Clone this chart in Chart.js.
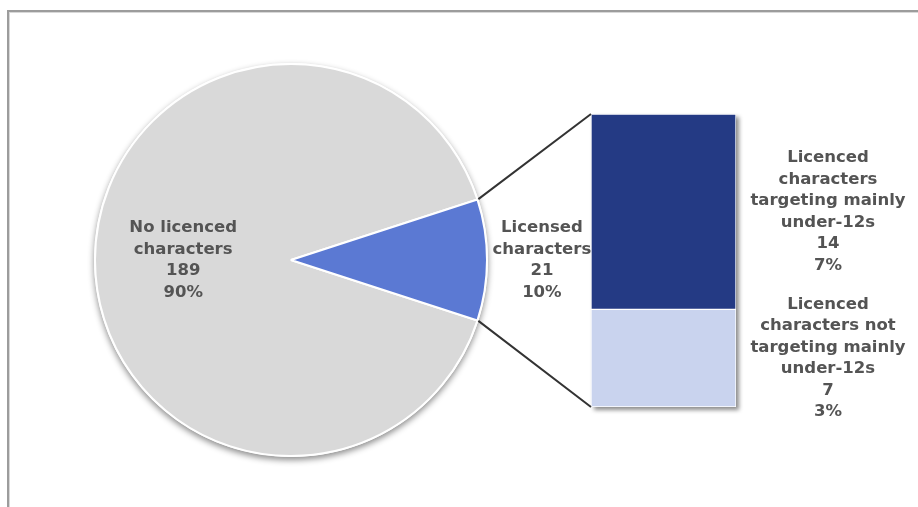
<!DOCTYPE html>
<html>
<head>
<meta charset="utf-8">
<script src="https://cdn.jsdelivr.net/npm/chart.js@4.4.0/dist/chart.umd.min.js"></script>
<style>
  html, body { margin: 0; padding: 0; background: #fff; overflow: hidden; }
  #wrap { position: relative; width: 918px; height: 507px; }
  #frame {
    position: absolute; left: 7px; top: 10px; width: 1000px; height: 600px;
    border-top: 2px solid #9c9c9c; border-left: 2px solid #9c9c9c;
    box-shadow: inset 1px 1px 0 #d8d8d8;
  }
  canvas { position: absolute; left: 0; top: 0; }
</style>
</head>
<body>
<div id="wrap">
  <div id="frame"></div>
  <canvas id="pie" width="918" height="507"></canvas>
  <canvas id="bar" width="918" height="507"></canvas>
</div>
<script>
// main split
const pieLabels = [['No licenced', 'characters'], ['Licensed', 'characters']];
const pieValues = [189, 21];
const pieColors = ['#d9d9d9', '#5b79d3'];

// breakdown of the licensed slice (top segment first)
const splitLabels = [
  ['Licenced', 'characters', 'targeting mainly', 'under-12s'],
  ['Licenced', 'characters not', 'targeting mainly', 'under-12s']
];
const splitValues = [14, 7];
const splitColors = ['#243a84', '#c9d3ee'];

const total = pieValues.reduce((a, b) => a + b, 0);
const pct = v => Math.round(v / total * 100) + '%';

const FONT = 'bold 16.5px "DejaVu Sans", sans-serif';
const TEXT = '#545454';
const LINE_H = 21.5;

function drawBlock(ctx, lines, x, yMid) {
  ctx.save();
  ctx.font = FONT;
  ctx.fillStyle = TEXT;
  ctx.textAlign = 'center';
  ctx.textBaseline = 'middle';
  const y0 = yMid - (lines.length - 1) * LINE_H / 2;
  lines.forEach((l, i) => ctx.fillText(l, x, y0 + i * LINE_H));
  ctx.restore();
}

const pieShadow = {
  id: 'pieShadow',
  beforeDatasetsDraw(chart) {
    const arc = chart.getDatasetMeta(0).data[0];
    const ctx = chart.ctx;
    ctx.save();
    ctx.shadowColor = 'rgba(0,0,0,0.45)';
    ctx.shadowBlur = 6;
    ctx.shadowOffsetY = 3;
    ctx.beginPath();
    ctx.arc(arc.x, arc.y, arc.outerRadius + 1, 0, Math.PI * 2);
    ctx.fillStyle = '#fff';
    ctx.fill();
    ctx.restore();
  }
};

const pieText = {
  id: 'pieText',
  afterDatasetsDraw(chart) {
    const arcs = chart.getDatasetMeta(0).data;
    const ctx = chart.ctx;
    // big slice labelled inside, small slice just outside its edge
    const dist = [0.55, 1.28];
    arcs.forEach((a, i) => {
      const mid = (a.startAngle + a.endAngle) / 2;
      const x = a.x + Math.cos(mid) * a.outerRadius * dist[i];
      const y = a.y + Math.sin(mid) * a.outerRadius * dist[i];
      drawBlock(ctx, [...pieLabels[i], String(pieValues[i]), pct(pieValues[i])], x, y);
    });
  }
};

const pieChart = new Chart(document.getElementById('pie'), {
  type: 'pie',
  data: {
    labels: pieLabels.map(l => l.join(' ')),
    datasets: [{
      data: pieValues,
      backgroundColor: pieColors,
      borderColor: '#fff',
      borderWidth: 2
    }]
  },
  options: {
    responsive: false,
    animation: false,
    devicePixelRatio: 1,
    rotation: 108,
    radius: 196,
    layout: { padding: { left: 0, right: 336, top: 15, bottom: 2 } },
    plugins: { legend: { display: false }, tooltip: { enabled: false } }
  },
  plugins: [pieShadow, pieText]
});

// soft drop shadow behind the whole stacked column
const barShadow = {
  id: 'barShadow',
  beforeDatasetsDraw(chart) {
    const n = splitValues.length;
    const top = chart.getDatasetMeta(n - 1).data[0];
    const bot = chart.getDatasetMeta(0).data[0];
    const ctx = chart.ctx;
    ctx.save();
    ctx.filter = 'blur(2px)';
    ctx.fillStyle = 'rgba(0,0,0,0.45)';
    ctx.fillRect(top.x - top.width / 2 + 3, top.y + 3, top.width, bot.base - top.y);
    ctx.restore();
  }
};

const connectors = {
  id: 'connectors',
  afterDraw(chart) {
    const ctx = chart.ctx;
    const arc = pieChart.getDatasetMeta(0).data[1];
    const n = splitValues.length;
    const topBar = chart.getDatasetMeta(n - 1).data[0];
    const botBar = chart.getDatasetMeta(0).data[0];
    const left = topBar.x - topBar.width / 2;
    const r = arc.outerRadius + 1;
    ctx.save();
    ctx.strokeStyle = '#333';
    ctx.lineWidth = 2;
    ctx.beginPath();
    ctx.moveTo(arc.x + Math.cos(arc.startAngle) * r, arc.y + Math.sin(arc.startAngle) * r);
    ctx.lineTo(left, topBar.y);
    ctx.moveTo(arc.x + Math.cos(arc.endAngle) * r, arc.y + Math.sin(arc.endAngle) * r);
    ctx.lineTo(left, botBar.base);
    ctx.stroke();
    ctx.restore();

    // segment labels to the right of the bar
    for (let d = 0; d < n; d++) {
      const i = n - 1 - d;
      const el = chart.getDatasetMeta(d).data[0];
      const yMid = (el.y + el.base) / 2;
      const x = el.x + el.width / 2 + 92;
      drawBlock(ctx, [...splitLabels[i], String(splitValues[i]), pct(splitValues[i])], x, yMid);
    }
  }
};

// stacked from the bottom, so feed the segments in reverse
new Chart(document.getElementById('bar'), {
  type: 'bar',
  data: {
    labels: [''],
    datasets: splitValues.map((v, i) => ({
      label: splitLabels[i].join(' '),
      data: [v],
      backgroundColor: splitColors[i],
      borderColor: '#fff',
      borderWidth: 1,
      borderSkipped: false,
      barPercentage: 1,
      categoryPercentage: 1
    })).reverse()
  },
  options: {
    responsive: false,
    animation: false,
    devicePixelRatio: 1,
    layout: { padding: { left: 591, right: 182, top: 114, bottom: 100 } },
    scales: {
      x: { stacked: true, display: false },
      y: { stacked: true, display: false, min: 0, max: splitValues.reduce((a, b) => a + b, 0) }
    },
    plugins: { legend: { display: false }, tooltip: { enabled: false } }
  },
  plugins: [barShadow, connectors]
});
</script>
</body>
</html>
